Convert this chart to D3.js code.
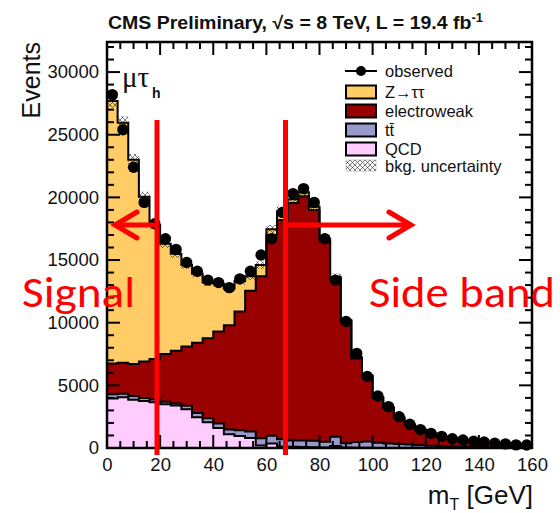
<!DOCTYPE html>
<html><head><meta charset="utf-8">
<script src="https://cdn.jsdelivr.net/npm/d3@7"></script>
<style>body{margin:0;background:#fff}svg{display:block}</style>
</head><body>
<svg id="c" width="560" height="513"></svg>
<script>
// ---- data (bin lower edges in GeV, 4 GeV bins) ----
const binLow = [0,4,8,12,16,20,24,28,32,36,40,44,48,52,56,60,64,68,72,76,80,84,88,92,96,100,104,108,112,116,120,124,128,132,136,140,144,148,152,156];
const qcd   = [3950,4050,3850,3750,3650,3500,3400,3100,2450,2050,1600,1100,950,800,200,350,120,100,80,60,40,150,30,20,20,10,10,10,5,5,0,0,0,0,0,0,0,0,0,0];
const ttbar = [330,280,300,250,220,200,160,280,350,330,350,380,470,520,580,630,580,500,520,520,460,750,350,460,500,410,340,310,275,215,180,130,100,80,60,50,40,30,25,20];
const ewk   = [2470,2470,2550,2900,3230,3800,4210,4720,5600,6370,7350,8320,9480,11230,12920,16020,17500,18950,19500,18420,16000,12600,9720,6670,5180,3580,2850,2080,1570,1230,970,770,620,540,460,400,320,280,215,200];
const ztt   = [20950,19150,16300,13150,10700,8800,7730,6500,5500,4450,3800,2900,2400,1150,900,450,700,300,300,250,200,150,100,100,80,50,50,40,30,20,10,10,10,10,10,5,5,5,5,5];
const observed = [28200,25400,22400,19600,17900,16700,15850,14800,14100,13400,13200,12800,13500,14100,15400,16700,18800,20300,20700,19600,16700,13400,10100,7550,5700,4150,3300,2500,1900,1470,1170,930,740,640,540,480,380,330,250,240];
const yTickValues = [0,5000,10000,15000,20000,25000,30000];
const xTickValues = [0,20,40,60,80,100,120,140,160];
const seriesKeys = ["qcd","ttbar","ewk","ztt"];
const seriesColors = {qcd:"#ffccff", ttbar:"#9999cc", ewk:"#990000", ztt:"#ffcc66"};
const legendLabels = ["observed","Z\u2192\u03c4\u03c4","electroweak","tt\u0304","QCD","bkg. uncertainty"];
const legendKeys = ["obs","ztt","ewk","ttbar","qcd","unc"];
const relUncertainty = 0.02;

const svg = d3.select("#c");
const x = d3.scaleLinear().domain([0,160]).range([107,532]);
const y = d3.scaleLinear().domain([0,32400]).range([448,42]);

// defs: hatch
const defs = svg.append("defs");
const pat = defs.append("pattern").attr("id","hatch").attr("patternUnits","userSpaceOnUse")
  .attr("width",5).attr("height",5);
pat.append("path").attr("d","M0,0L5,5M5,0L0,5").attr("stroke","#222").attr("stroke-width",0.6);

// stack
const rows = binLow.map((b,i)=>({lo:b, qcd:qcd[i], ttbar:ttbar[i], ewk:ewk[i], ztt:ztt[i]}));
const stacked = d3.stack().keys(seriesKeys)(rows);
const xEnd = x.domain()[1];
function withEnd(arr){ const a = arr.map((d,i)=>({x:binLow[i], y0:d[0], y1:d[1]})); const l=a[a.length-1]; a.push({x:xEnd,y0:l.y0,y1:l.y1}); return a; }
const area = d3.area().curve(d3.curveStepAfter).x(d=>x(d.x)).y0(d=>y(d.y0)).y1(d=>y(d.y1));
const topLine = d3.line().curve(d3.curveStepAfter).x(d=>x(d.x)).y(d=>y(d.y1));

const g = svg.append("g");
stacked.forEach(s=>{
  const pts = withEnd(s);
  g.append("path").attr("d",area(pts)).attr("fill",seriesColors[s.key]).attr("stroke","none");
});
stacked.forEach(s=>{
  const pts = withEnd(s);
  g.append("path").attr("d",topLine(pts)).attr("fill","none").attr("stroke","#000").attr("stroke-width",2);
});

// uncertainty band
const total = stacked[stacked.length-1].map(d=>d[1]);
const unc = withEnd(total.map(t=>[t*(1-relUncertainty), t*(1+relUncertainty)]));
g.append("path").attr("d",area(unc)).attr("fill","url(#hatch)").attr("stroke","none");

// observed
g.selectAll("circle.obs").data(observed).enter().append("circle")
  .attr("cx",(d,i)=>x(binLow[i]+2)).attr("cy",d=>y(d)).attr("r",5.7).attr("fill","#000");

// frame & ticks
const minorY = d3.range(0,32001,1000), minorX = d3.range(0,161,5);
function tick(x1,y1,x2,y2,w){ svg.append("line").attr("x1",x1).attr("y1",y1).attr("x2",x2).attr("y2",y2).attr("stroke","#000").attr("stroke-width",w||2); }
minorY.forEach(v=>{ const L = yTickValues.includes(v)?13:7; tick(x(0),y(v),x(0)+L,y(v)); tick(x(160),y(v),x(160)-L,y(v)); });
minorX.forEach(v=>{ const L = (v%20===0)?13:7; tick(x(v),y(0),x(v),y(0)-L); tick(x(v),42,x(v),42+L); });
svg.append("rect").attr("x",107).attr("y",42).attr("width",425).attr("height",406)
  .attr("fill","none").attr("stroke","#000").attr("stroke-width",2.5);

const font = "Liberation Sans, Arial, sans-serif";
svg.append("g").attr("transform","translate(107,0)")
  .call(d3.axisLeft(y).tickValues(yTickValues).tickSize(0).tickPadding(8).tickFormat(d3.format("d")))
  .call(a=>a.select(".domain").remove())
  .call(a=>a.selectAll("text").attr("font-family",font).attr("font-size",18.5).attr("fill","#111"));
svg.append("g").attr("transform","translate(0,448)")
  .call(d3.axisBottom(x).tickValues(xTickValues).tickSize(0).tickPadding(10).tickFormat(d3.format("d")))
  .call(a=>a.select(".domain").remove())
  .call(a=>a.selectAll("text").attr("font-family",font).attr("font-size",18.5).attr("fill","#111"));

// axis titles
svg.append("text").attr("transform","translate(40,42) rotate(-90)").attr("text-anchor","end")
  .attr("font-family",font).attr("font-size",25).attr("fill","#111").text("Events");
const xt = svg.append("text").attr("x",533).attr("y",504).attr("text-anchor","end")
  .attr("font-family",font).attr("font-size",26).attr("fill","#111");
xt.append("tspan").text("m");
xt.append("tspan").attr("font-size",16).attr("dy",6).text("T");
xt.append("tspan").attr("dy",-6).text(" [GeV]");

// title
const tt = svg.append("text").attr("x",108).attr("y",29).attr("font-family",font).attr("font-weight","bold")
  .attr("font-size",18).attr("fill","#111").attr("textLength",375).attr("lengthAdjust","spacingAndGlyphs");
tt.append("tspan").text("CMS Preliminary, \u221As = 8 TeV, L = 19.4 fb");
tt.append("tspan").attr("dy",-7).attr("font-size",12).text("-1");

// channel label
svg.append("text").attr("x",122).attr("y",87).attr("font-family","Liberation Serif, serif").attr("font-size",29)
  .attr("fill","#111").text("\u03bc\u03c4");
svg.append("text").attr("x",152).attr("y",98).attr("font-family",font).attr("font-weight","bold").attr("font-size",14)
  .attr("fill","#111").text("h");

// legend
const lg = svg.append("g");
const rowY = [71,92,111,130,149,166];
legendKeys.forEach((k,i)=>{
  const cy = rowY[i];
  if(k==="obs"){
    lg.append("line").attr("x1",345).attr("x2",377).attr("y1",cy).attr("y2",cy).attr("stroke","#000").attr("stroke-width",2);
    lg.append("circle").attr("cx",361).attr("cy",cy).attr("r",5).attr("fill","#000");
  } else if(k==="unc"){
    lg.append("rect").attr("x",346).attr("y",cy-6).attr("width",30).attr("height",11).attr("fill","url(#hatch)").attr("stroke","#999").attr("stroke-width",0.5);
  } else {
    lg.append("rect").attr("x",346).attr("y",cy-6.5).attr("width",30).attr("height",13).attr("fill",seriesColors[k]).attr("stroke","#000").attr("stroke-width",2);
  }
  lg.append("text").attr("x",385).attr("y",cy+6).attr("font-family",font).attr("font-size",16.5).attr("fill","#111").text(legendLabels[i]);
});

// red annotations
const red = "#ff0000";
const ann = svg.append("g").attr("stroke",red).attr("stroke-width",5).attr("fill","none");
ann.append("line").attr("x1",157).attr("x2",157).attr("y1",120).attr("y2",455);
ann.append("line").attr("x1",285.5).attr("x2",285.5).attr("y1",120).attr("y2",455);
ann.append("line").attr("x1",157).attr("x2",115).attr("y1",225).attr("y2",225);
ann.append("polyline").attr("points","137,212 115,225 137,238").attr("stroke-linecap","round");
ann.append("line").attr("x1",285).attr("x2",410).attr("y1",225).attr("y2",225);
ann.append("polyline").attr("points","389,212 411,225 389,238").attr("stroke-linecap","round");
const rf = "Carlito, Lato, 'Open Sans', sans-serif";
svg.append("text").attr("x",22).attr("y",307).attr("font-family",rf).attr("font-size",43).attr("fill",red)
  .attr("textLength",113).attr("lengthAdjust","spacingAndGlyphs").text("Signal");
svg.append("text").attr("x",369).attr("y",307).attr("font-family",rf).attr("font-size",43).attr("fill",red)
  .attr("textLength",186).attr("lengthAdjust","spacingAndGlyphs").text("Side band");
</script>
</body></html>
